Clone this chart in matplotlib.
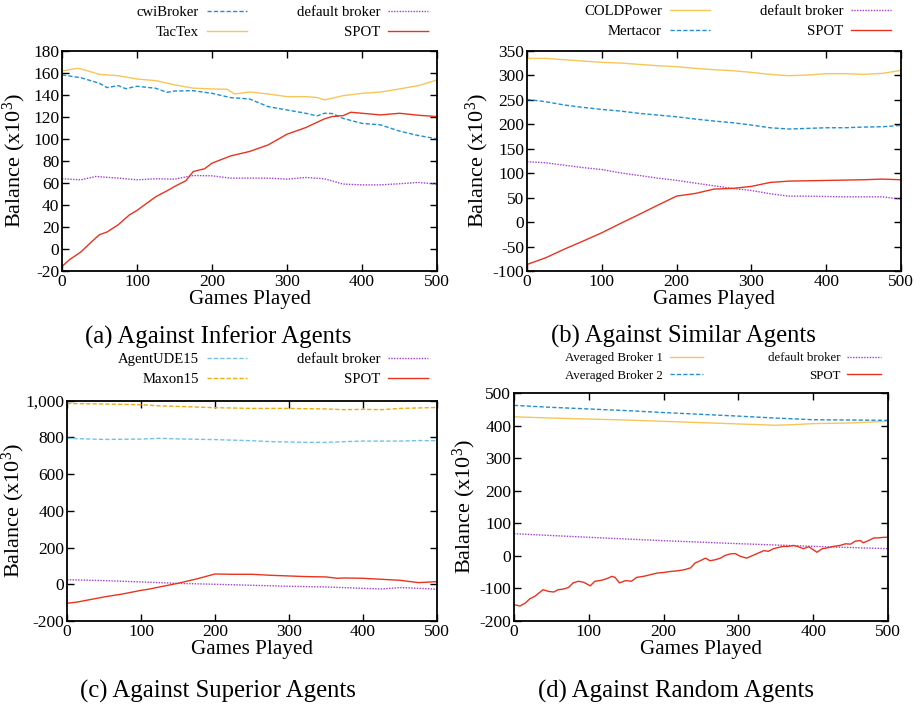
import matplotlib

matplotlib.use("Agg")
import matplotlib.pyplot as plt
from matplotlib.ticker import FuncFormatter

plt.rcParams["font.family"] = ["Liberation Serif", "DejaVu Serif"]
plt.rcParams["mathtext.fontset"] = "custom"
plt.rcParams["mathtext.rm"] = "Liberation Serif"
plt.rcParams["mathtext.default"] = "regular"
plt.rcParams["axes.unicode_minus"] = False

# ---- (a) against inferior agents ----
a_cwi_x = [0, 25, 50, 60, 75, 85, 100, 125, 140, 150, 175, 200, 225, 250, 275,
           300, 325, 340, 350, 360, 375, 400, 410, 425, 450, 475, 500]
a_cwi_y = [158, 155.5, 150.4, 146.5, 148.3, 145.5, 147.7, 145.9, 142.2, 143.4,
           143.7, 141.3, 137.4, 136.2, 129.2, 126.2, 123.2, 120.8, 123.2, 123,
           118.5, 114, 113.5, 112.6, 107, 103, 100]
a_tactex_x = [0, 20, 25, 50, 75, 100, 125, 150, 175, 200, 220, 230, 250, 275,
              300, 325, 340, 350, 375, 400, 425, 450, 475, 500]
a_tactex_y = [161.6, 164, 163.5, 158.5, 157.3, 154.3, 152.8, 149, 146, 145.3,
              145, 140.7, 142.5, 140.7, 138.3, 138.3, 137.5, 135.3, 139.2,
              141.3, 142.5, 145.3, 148.3, 153.4]
a_default_x = [0, 25, 45, 75, 100, 125, 150, 175, 200, 225, 250, 275, 300, 325,
               350, 375, 400, 425, 450, 475, 500]
a_default_y = [63.7, 62.8, 65.8, 64.3, 62.8, 63.7, 63.4, 66.7, 66.4, 64.3, 64.3,
               64.3, 63.4, 64.9, 63.7, 58.9, 58.2, 58.2, 59.2, 60.4, 58.9]
a_spot_x = [0, 10, 25, 40, 50, 60, 75, 90, 100, 110, 125, 140, 150, 165, 175,
            190, 200, 225, 250, 275, 300, 325, 340, 350, 360, 375, 385, 400,
            425, 450, 475, 500]
a_spot_y = [-15.8, -9.7, -2.8, 6.9, 13, 15.4, 22, 31, 35, 40, 47.4, 52.8, 56.7,
            61.9, 70.3, 72.8, 77.9, 84.5, 88.5, 94.5, 104.2, 110.2, 115, 118.1,
            120.2, 121.1, 124.1, 123.2, 121.7, 123.2, 121.4, 120.2]

# ---- (b) against similar agents ----
b_x = [0, 25, 50, 75, 100, 125, 150, 175, 200, 225, 250, 275, 300, 325, 350,
       375, 400, 425, 450, 475, 500]
b_cold_y = [334.3, 334.3, 331.6, 328.9, 326.2, 324.8, 322, 319.3, 317.3, 313.9,
            311.2, 309.1, 305.7, 301.6, 298.9, 300.3, 303, 303, 301.6, 303.7,
            309.8]
b_mert_y = [250.5, 245.8, 239, 234.2, 230, 226.7, 222, 218.5, 215, 210.4,
            206.3, 202.9, 198.1, 192.6, 190, 191.3, 192.6, 192.6, 194, 194.7,
            197.4]
b_default_y = [123.2, 121.1, 116, 111.2, 107.3, 100.4, 95.1, 89.7, 85.1, 79.5,
               74, 68.6, 64.5, 57.8, 52.9, 52.9, 52.2, 51.5, 51.5, 51.5, 46.8]
b_spot_y = [-86.7, -73, -55.3, -38.9, -21.9, -2.9, 15.6, 34.6, 53, 58.4, 67.3,
            68.7, 72.8, 80.9, 83.6, 84.3, 85, 85.7, 86.4, 87.7, 86.4]

# ---- (c) against superior agents ----
c_agent_x = [0, 50, 100, 125, 150, 200, 250, 275, 300, 325, 350, 375, 400, 450,
             475, 500]
c_agent_y = [795, 789, 791, 795, 792, 788, 782, 777, 775, 773, 773, 777, 780,
             780, 783, 782]
c_maxon_x = [0, 50, 100, 125, 150, 200, 250, 300, 350, 375, 400, 425, 450, 500]
c_maxon_y = [985, 982, 978, 972, 969, 962, 958, 958, 955, 951, 953, 951, 958,
             963]
c_default_x = [0, 50, 100, 150, 200, 250, 300, 350, 400, 425, 450, 475, 500]
c_default_y = [25, 20, 13, 5, 0, -5.5, -11, -14.6, -22, -25.5, -18, -22, -27]
c_spot_x = [0, 15, 50, 75, 100, 110, 125, 150, 175, 200, 225, 250, 275, 300,
            325, 350, 365, 375, 400, 425, 450, 475, 500]
c_spot_y = [-103.5, -96, -69, -53, -33, -27, -14.6, 5.4, 29, 56, 54.4, 54.4, 49,
            45.3, 41.7, 40, 32.6, 34.4, 32.6, 27.2, 21.7, 9, 14.5]

# ---- (d) against random agents ----
d_avg1_x = [0, 50, 100, 150, 200, 250, 300, 350, 375, 400, 450, 500]
d_avg1_y = [427, 423, 420, 417, 413, 409, 405, 401, 403, 406, 408, 413]
d_avg2_x = [0, 50, 100, 150, 200, 250, 300, 350, 400, 450, 500]
d_avg2_y = [462, 456, 451, 446, 440, 434.5, 429, 423, 418, 417, 416]
d_default_x = [0, 100, 200, 300, 400, 500]
d_default_y = [68, 57, 46.6, 37.4, 29.2, 22]
d_spot_x = [0, 8, 15, 21, 28, 35, 39, 46, 53, 59, 66, 73, 79, 86, 93, 102, 108,
            117, 124, 131, 135, 141, 149, 157, 164, 173, 182, 191, 200, 209,
            218, 227, 236, 242, 249, 256, 262, 269, 276, 282, 289, 296, 302,
            311, 320, 327, 334, 340, 347, 354, 360, 367, 374, 380, 387, 394,
            400, 405, 412, 418, 427, 436, 443, 450, 456, 463, 467, 474, 481,
            487, 494, 500]
d_spot_y = [-150, -154, -145, -132, -124, -111, -104, -109, -111, -104, -102,
            -97, -83, -78, -81, -92, -78, -75, -70, -63, -66, -83, -76, -78,
            -66, -63, -58, -53, -51, -48, -46, -43, -37, -22, -15, -7, -15, -12,
            -7, 1, 6, 7, -1, -7, 2, 9, 16, 14, 22, 26, 29, 29, 32, 28, 22, 28,
            19, 11, 22, 24, 29, 32, 37, 36, 45, 47, 40, 47, 55, 55, 57, 57]

# line styles shared by the panels
BLUE = "#1f8fd3"
LIGHT_BLUE = "#72c2e6"
YELLOW = "#f6c65a"
ORANGE = "#f2ab0a"
PURPLE = "#a23fd6"
RED = "#e8341f"
DASHED = (0, (3, 1.6))
DOTTED = (0, (1, 1))


def draw_panel(fig, rect, series, ylim, ystep, caption, caption_xy,
               legend_xy, ylabel_x, legend_size=10.6, handlelength=2.7,
               columnspacing=3.4, comma=False):
    """Draws one balance-vs-games panel with its legend and caption."""
    ax = fig.add_axes(rect)
    for label, xs, ys, color, style in series:
        ax.plot(xs, ys, color=color, linestyle=style, linewidth=1.0,
                label=label)

    ax.set_xlim(0, 500)
    ax.set_ylim(*ylim)
    ax.set_xticks(range(0, 501, 100))
    ax.set_yticks(range(ylim[0], ylim[1] + 1, ystep))
    if comma:
        ax.yaxis.set_major_formatter(FuncFormatter(lambda v, _: f"{int(v):,}"))
    ax.tick_params(direction="in", top=True, right=True, length=5,
                   width=1.0, labelsize=12.5, pad=2)
    for spine in ax.spines.values():
        spine.set_linewidth(1.3)

    ax.set_xlabel("Games Played", fontsize=15.2, labelpad=0)
    ax.set_ylabel("Balance (x10$^{3}$)", fontsize=16)
    # the label anchor is its right-hand edge once rotated
    ax.yaxis.set_label_coords(ylabel_x, 0.5)

    fig.legend(
        loc="upper right",
        bbox_to_anchor=legend_xy,
        bbox_transform=fig.transFigure,
        ncol=2,
        markerfirst=False,
        frameon=False,
        fontsize=legend_size,
        handlelength=handlelength,
        handletextpad=0.55,
        columnspacing=columnspacing,
        labelspacing=0.45,
        borderpad=0,
        borderaxespad=0,
        handles=ax.get_lines(),
    )
    fig.text(caption_xy[0], caption_xy[1], caption, ha="center", va="center",
             fontsize=17.8)
    return ax


W, H = 921, 708
fig = plt.figure(figsize=(W / 100, H / 100), dpi=100)


def frac(left, top, right, bottom):
    return [left / W, 1 - bottom / H, (right - left) / W, (bottom - top) / H]


draw_panel(
    fig, frac(62, 50.7, 437, 271),
    [("cwiBroker", a_cwi_x, a_cwi_y, BLUE, DASHED),
     ("TacTex", a_tactex_x, a_tactex_y, YELLOW, "-"),
     ("default broker", a_default_x, a_default_y, PURPLE, DOTTED),
     ("SPOT", a_spot_x, a_spot_y, RED, "-")],
    (-20, 180), 20, "(a) Against Inferior Agents", (218 / W, 1 - 337 / H),
    (428 / W, 1 - 6 / H), ylabel_x=-0.091,
)
draw_panel(
    fig, frac(527, 50.7, 901, 271),
    [("COLDPower", b_x, b_cold_y, YELLOW, "-"),
     ("Mertacor", b_x, b_mert_y, BLUE, DASHED),
     ("default broker", b_x, b_default_y, PURPLE, DOTTED),
     ("SPOT", b_x, b_spot_y, RED, "-")],
    (-100, 350), 50, "(b) Against Similar Agents", (683 / W, 1 - 336 / H),
    (891 / W, 1 - 5 / H), ylabel_x=-0.096,
)
draw_panel(
    fig, frac(67, 400.7, 437, 621),
    [("AgentUDE15", c_agent_x, c_agent_y, LIGHT_BLUE, DASHED),
     ("Maxon15", c_maxon_x, c_maxon_y, ORANGE, DASHED),
     ("default broker", c_default_x, c_default_y, PURPLE, DOTTED),
     ("SPOT", c_spot_x, c_spot_y, RED, "-")],
    (-200, 1000), 200, "(c) Against Superior Agents", (218 / W, 1 - 691 / H),
    (428 / W, 1 - 353 / H), ylabel_x=-0.108, comma=True,
)
draw_panel(
    fig, frac(514, 393, 888, 621),
    [("Averaged Broker 1", d_avg1_x, d_avg1_y, YELLOW, "-"),
     ("Averaged Broker 2", d_avg2_x, d_avg2_y, BLUE, DASHED),
     ("default broker", d_default_x, d_default_y, PURPLE, DOTTED),
     ("SPOT", d_spot_x, d_spot_y, RED, "-")],
    (-200, 500), 100, "(d) Against Random Agents", (676 / W, 1 - 691 / H),
    (881 / W, 1 - 352 / H), ylabel_x=-0.096, legend_size=9.3,
    handlelength=2.6, columnspacing=5.0,
)

fig.savefig("out.png", dpi=100)
